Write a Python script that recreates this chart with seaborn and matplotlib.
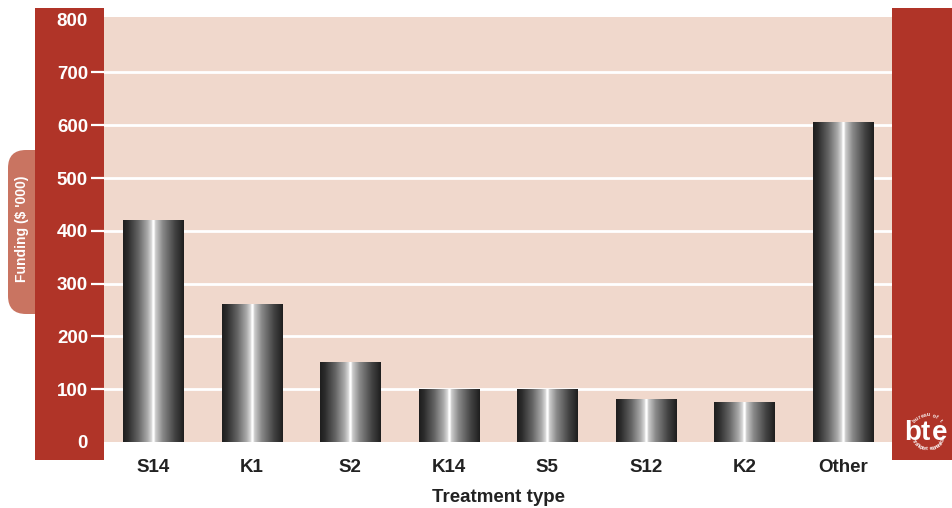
import numpy as np
import pandas as pd
import matplotlib
matplotlib.use("Agg")
import matplotlib.pyplot as plt
import seaborn as sns
from matplotlib.patches import Rectangle, FancyBboxPatch
from matplotlib.colors import LinearSegmentedColormap
from matplotlib.transforms import IdentityTransform

# Data
treatments = ["S14", "K1", "S2", "K14", "S5", "S12", "K2", "Other"]
funding = [420, 260, 150, 100, 100, 80, 75, 605]
y_ticks = [0, 100, 200, 300, 400, 500, 600, 700, 800]

df = pd.DataFrame({"Treatment type": treatments, "Funding": funding})

# Colours
RED = "#B03428"
PINK = "#F0D8CC"
TAB = "#C97461"
INK = "#222222"

W, H = 952, 508
sns.set_theme(style="white")
plt.rcParams["font.family"] = ["Liberation Sans", "DejaVu Sans"]

fig = plt.figure(figsize=(W / 100, H / 100), dpi=100)
fig.patch.set_facecolor("white")


def frac(x0, y0, x1, y1):
    """Pixel box (origin top-left) -> figure-fraction rect."""
    return [x0 / W, 1 - y1 / H, (x1 - x0) / W, (y1 - y0) / H]


# Side panels and the label tab (pixel coordinates, origin bottom-left)
ident = IdentityTransform()
tab = FancyBboxPatch((8, H - 314), 60, 164,
                     boxstyle="round,pad=0,rounding_size=18",
                     facecolor=TAB, edgecolor="none", transform=ident, zorder=-3)
left_band = Rectangle((35, H - 460), 69, 452, facecolor=RED,
                      edgecolor="none", transform=ident, zorder=-2)
right_band = Rectangle((892, H - 460), 60, 452, facecolor=RED,
                       edgecolor="none", transform=ident, zorder=-2)
for p in (tab, left_band, right_band):
    fig.add_artist(p)

ax = fig.add_axes(frac(104, 17, 892, 442))
ax.set_facecolor(PINK)

sns.barplot(data=df, x="Treatment type", y="Funding", color="#333333",
            width=0.61, saturation=1, ax=ax, zorder=3)

# Metallic cylinder shading for each bar
metal = LinearSegmentedColormap.from_list("metal", [
    (0.00, "#1e1e1e"), (0.08, "#2c2c2c"), (0.25, "#646464"),
    (0.40, "#a8a8a8"), (0.47, "#dadada"), (0.49, "#ffffff"),
    (0.51, "#ffffff"), (0.53, "#cfcfcf"), (0.65, "#8a8a8a"),
    (0.85, "#444444"), (1.00, "#1e1e1e")])
grad = np.linspace(0, 1, 256)[None, :]
for bar in ax.patches:
    x0, w, h = bar.get_x(), bar.get_width(), bar.get_height()
    bar.set_visible(False)
    ax.imshow(grad, cmap=metal, aspect="auto", interpolation="bilinear",
              extent=[x0, x0 + w, 0, h], zorder=3)

ax.set_xlim(-0.5, len(treatments) - 0.5)
ax.set_ylim(0, 805)
ax.set_yticks(y_ticks)
ax.set_yticklabels([str(v) for v in y_ticks])

for s in ax.spines.values():
    s.set_visible(False)

# White gridlines for the inner ticks only
for v in y_ticks[1:-1]:
    ax.axhline(v, color="white", lw=2, zorder=1)

ax.tick_params(axis="y", which="major", direction="out", length=9.5, width=1.6,
               color="white", pad=2, labelcolor="white", labelsize=13.5, left=True)
for lab in ax.get_yticklabels():
    lab.set_fontweight("bold")
yt = ax.yaxis.get_major_ticks()
yt[0].tick1line.set_visible(False)
yt[-1].tick1line.set_visible(False)

ax.tick_params(axis="x", length=0, pad=12.5, labelcolor=INK, labelsize=13.5)
for lab in ax.get_xticklabels():
    lab.set_fontweight("bold")

ax.set_xlabel("Treatment type", fontsize=13.5, fontweight="bold", color=INK,
              labelpad=9)
ax.set_ylabel("")

fig.text(22 / W, 1 - 229 / H, "Funding ($ '000)", rotation=90, color="white",
         fontsize=10, fontweight="bold", ha="center", va="center")

# bte emblem
cx, cy = 928, H - 432
for ch, lx in zip("bte", (904, 921, 932)):
    fig.text(lx / W, (H - 440) / H, ch, color="white", fontsize=20,
             fontweight="bold", ha="left", va="baseline")


def arc_text(text, radius, start, end, top=True):
    angs = np.linspace(start, end, len(text))
    for ch, a in zip(text, angs):
        x = cx + radius * np.cos(np.radians(a))
        y = cy + radius * np.sin(np.radians(a))
        rot = a - 90 if top else a + 90
        fig.text(x / W, y / H, ch, color="white", fontsize=3.6,
                 fontweight="bold", ha="center", va="center", rotation=rot)


arc_text("bureau of t", 17, 140, 40, top=True)
arc_text("transport economics", 17, 210, 335, top=False)

fig.savefig("out.png", dpi=100, facecolor="white")
